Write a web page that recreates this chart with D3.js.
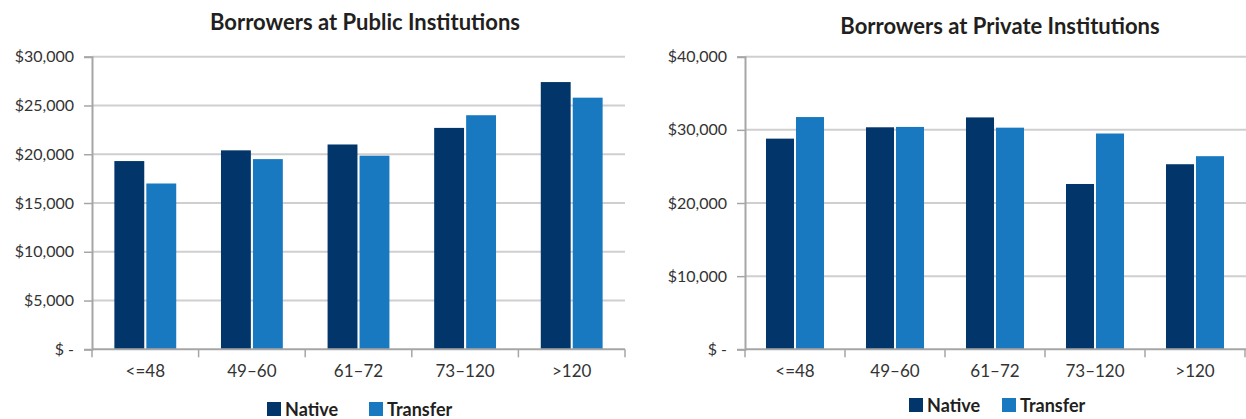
<!DOCTYPE html>
<html>
<head>
<meta charset="utf-8">
<script src="https://cdn.jsdelivr.net/npm/d3@7"></script>
<style>
  body { margin: 0; background: #fff; }
  svg { display: block; font-family: Lato, "Open Sans", sans-serif; }
</style>
</head>
<body>
<div id="chart"></div>
<script>
// data
const categories = ["<=48", "49\u201360", "61\u201372", "73\u2013120", ">120"];
const seriesNames = ["Native", "Transfer"];
const publicNative = [19300, 20400, 21000, 22700, 27400];
const publicTransfer = [17000, 19500, 19850, 24000, 25800];
const privateNative = [28800, 30350, 31700, 22600, 25300];
const privateTransfer = [31750, 30400, 30300, 29500, 26400];
const publicTicks = [0, 5000, 10000, 15000, 20000, 25000, 30000];
const privateTicks = [0, 10000, 20000, 30000, 40000];

const colors = {Native: "#02366a", Transfer: "#1879c0"};

const width = 1246, height = 419;
const svg = d3.select("#chart").append("svg")
    .attr("width", width)
    .attr("height", height);

const fmt = d => d === 0 ? "$ -" : "$" + d3.format(",")(d);

function drawPanel(opts){
    const x = d3.scaleBand()
        .domain(categories)
        .range([opts.left, opts.right]);

    const x1 = d3.scaleBand()
        .domain(seriesNames)
        .range([0, x.bandwidth()])
        .paddingInner(0.065)
        .paddingOuter(0.7);

    const y = d3.scaleLinear()
        .domain([0, opts.max])
        .range([349.3, 56.7]);

    const g = svg.append("g");

    // gridlines
    g.append("g")
        .selectAll("line")
        .data(opts.ticks.filter(d => d > 0))
        .enter().append("line")
        .attr("x1", opts.left)
        .attr("x2", opts.gridEnd)
        .attr("y1", d => y(d))
        .attr("y2", d => y(d))
        .attr("stroke", "#cfcfcf")
        .attr("stroke-width", 2);

    // bars
    const rows = categories.map((c, i) => ({cat: c, Native: opts.native[i], Transfer: opts.transfer[i]}));
    g.append("g")
        .selectAll("g")
        .data(rows)
        .enter().append("g")
        .attr("transform", d => `translate(${x(d.cat)},0)`)
        .selectAll("rect")
        .data(d => seriesNames.map(s => ({key: s, value: d[s]})))
        .enter().append("rect")
        .attr("x", d => x1(d.key))
        .attr("width", x1.bandwidth())
        .attr("y", d => y(d.value))
        .attr("height", d => y(0) - y(d.value))
        .attr("fill", d => colors[d.key]);

    // y axis
    const yAxis = d3.axisLeft(y)
        .tickValues(opts.ticks)
        .tickFormat(fmt)
        .tickSize(8)
        .tickPadding(10);
    const ya = g.append("g")
        .attr("transform", `translate(${opts.left},0)`)
        .call(yAxis);
    ya.select(".domain").attr("stroke", "#a6a6a6").attr("stroke-width", 2);
    ya.selectAll(".tick line").attr("stroke", "#a6a6a6").attr("stroke-width", 1.5);
    ya.selectAll(".tick text")
        .attr("fill", "#333")
        .style("font-size", "16px")
        .style("font-family", "Lato, sans-serif");

    // x axis
    const xa = g.append("g")
        .attr("transform", `translate(0,${y(0)})`);
    xa.append("line")
        .attr("x1", opts.left)
        .attr("x2", opts.gridEnd)
        .attr("stroke", "#a6a6a6")
        .attr("stroke-width", 2);
    xa.selectAll(".xtick")
        .data(categories.concat([null]))
        .enter().append("line")
        .attr("class", "xtick")
        .attr("x1", d => d === null ? opts.right : x(d))
        .attr("x2", d => d === null ? opts.right : x(d))
        .attr("y1", 0)
        .attr("y2", 8)
        .attr("stroke", "#a6a6a6")
        .attr("stroke-width", 1.5);
    xa.selectAll(".xlabel")
        .data(categories)
        .enter().append("text")
        .attr("class", "xlabel")
        .attr("x", d => x(d) + x.bandwidth() / 2)
        .attr("y", 28)
        .attr("text-anchor", "middle")
        .attr("fill", "#333")
        .style("font-size", "17px")
        .text(d => d);

    // title
    svg.append("text")
        .attr("x", opts.titleX)
        .attr("y", opts.titleY)
        .attr("text-anchor", "middle")
        .attr("fill", "#231f20")
        .style("font-weight", "bold")
        .style("font-size", "22px")
        .text(opts.title);

    // legend
    const leg = svg.append("g")
        .attr("transform", `translate(${opts.legendX},${opts.legendY})`);
    const items = leg.selectAll("g")
        .data(seriesNames)
        .enter().append("g")
        .attr("transform", (d, i) => `translate(${i * opts.legendStep},0)`);
    items.append("rect")
        .attr("width", 14)
        .attr("height", 14)
        .attr("y", -14)
        .attr("fill", d => colors[d]);
    items.append("text")
        .attr("x", 18)
        .attr("y", 0)
        .attr("fill", "#231f20")
        .style("font-weight", "bold")
        .style("font-size", "18px")
        .text(d => d);
}

drawPanel({
    title: "Borrowers at Public Institutions",
    titleX: 365, titleY: 30,
    left: 92, right: 625, gridEnd: 625,
    max: 30000, ticks: publicTicks,
    native: publicNative, transfer: publicTransfer,
    legendX: 267, legendY: 416, legendStep: 102
});

drawPanel({
    title: "Borrowers at Private Institutions",
    titleX: 1000, titleY: 34,
    left: 745, right: 1245, gridEnd: 1246,
    max: 40000, ticks: privateTicks,
    native: privateNative, transfer: privateTransfer,
    legendX: 909, legendY: 412, legendStep: 93
});
</script>
</body>
</html>
